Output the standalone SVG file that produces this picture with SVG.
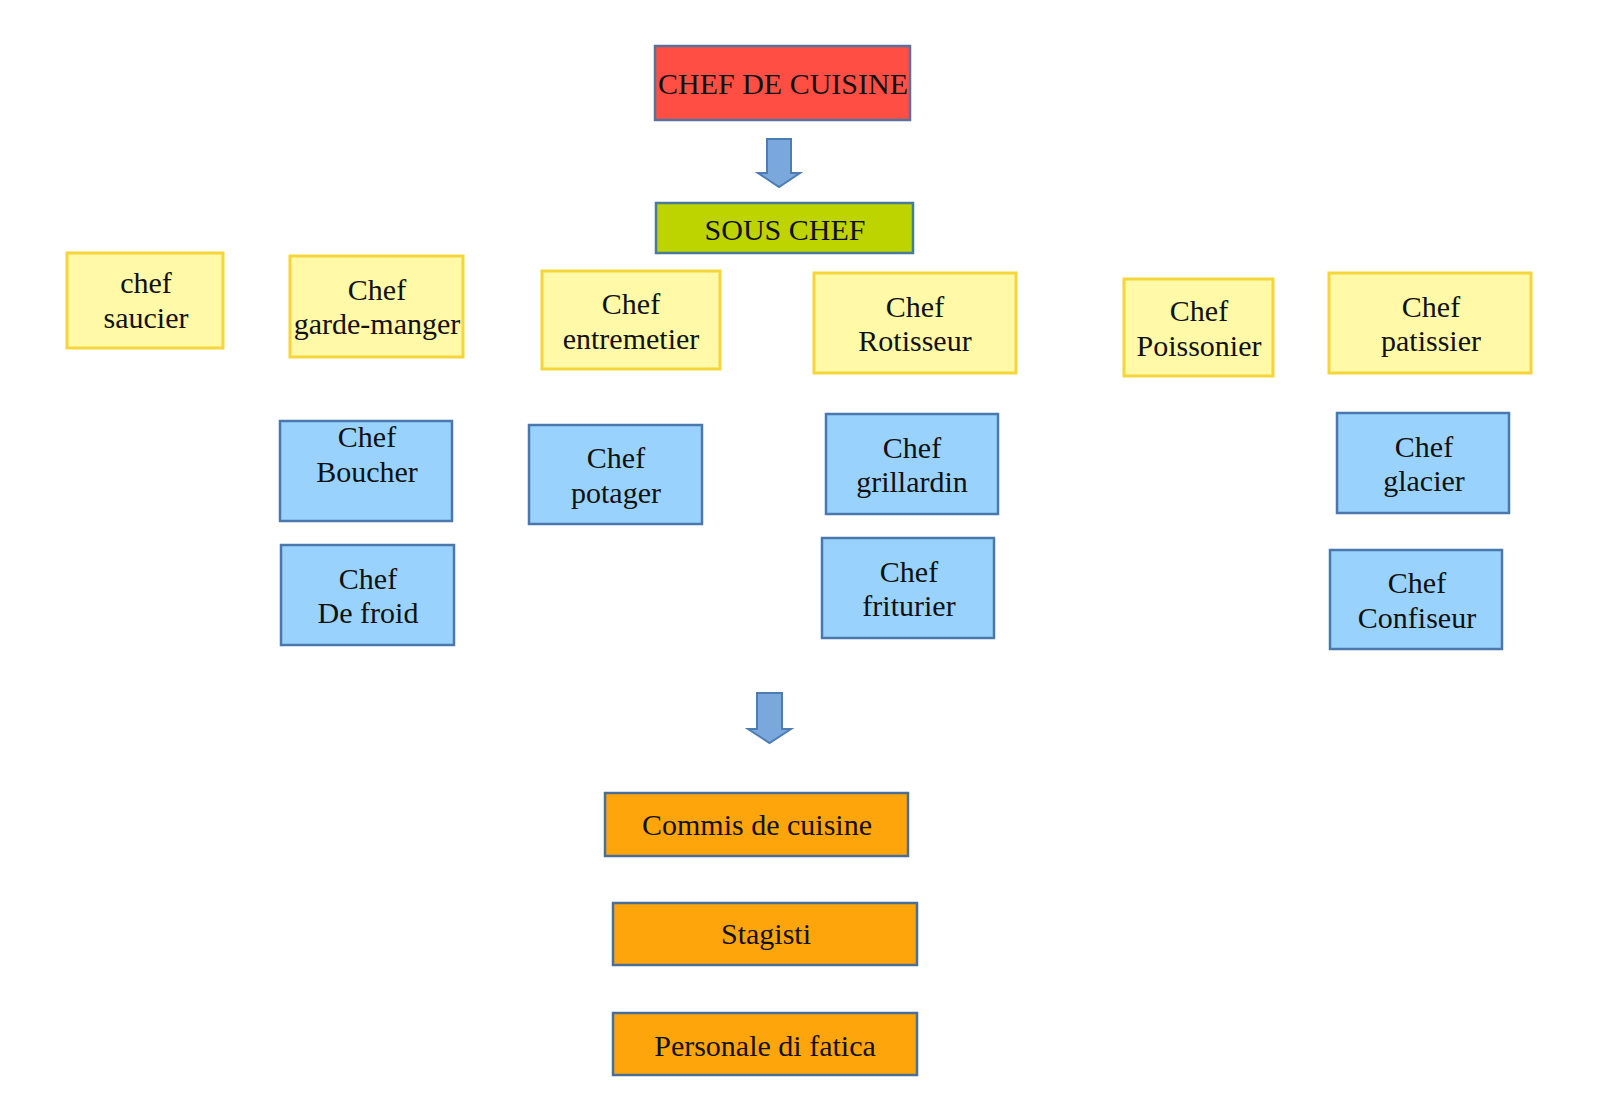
<svg xmlns="http://www.w3.org/2000/svg" width="1600" height="1102" viewBox="0 0 1600 1102">
<style>
text{font-family:"Liberation Serif","Times New Roman",serif;font-size:30px;fill:#111;text-anchor:middle}
.y{fill:#fff9a8;stroke:#f5d53a;stroke-width:3}
.b{fill:#99d3fd;stroke:#4a78ad;stroke-width:2.5}
.o{fill:#fea50c;stroke:#4a6e98;stroke-width:2.5}
.arr{fill:#7ba8dc;stroke:#4d7cb3;stroke-width:2;stroke-linejoin:miter}
</style>
<rect width="1600" height="1102" fill="#fff"/>
<g id="connectors">
<path class="arr" d="M767,139 H791 V173 H800 L779,187 L758,173 H767 Z"/>
<path class="arr" d="M757,693 H782 V729 H791 L769.5,743 L748,729 H757 Z"/>
</g>
<g id="chef-de-cuisine"><rect x="655" y="46" width="255" height="74" fill="#ff4f44" stroke="#56729c" stroke-width="2.5"/><text x="783" y="94">CHEF DE CUISINE</text></g>
<g id="sous-chef"><rect x="656" y="203" width="257" height="50" fill="#bdd400" stroke="#4a7a9a" stroke-width="2.5"/><text x="785" y="240">SOUS CHEF</text></g>
<g id="saucier"><rect class="y" x="67" y="253" width="156" height="95"/><text x="146" y="293">chef</text><text x="146" y="328">saucier</text></g>
<g id="garde-manger"><rect class="y" x="290" y="256" width="173" height="101"/><text x="377" y="300">Chef</text><text x="377" y="334">garde-manger</text></g>
<g id="entremetier"><rect class="y" x="542" y="271" width="178" height="98"/><text x="631" y="314">Chef</text><text x="631" y="349">entremetier</text></g>
<g id="rotisseur"><rect class="y" x="814" y="273" width="202" height="100"/><text x="915" y="317">Chef</text><text x="915" y="351">Rotisseur</text></g>
<g id="poissonier"><rect class="y" x="1124" y="279" width="149" height="97"/><text x="1199" y="321">Chef</text><text x="1199" y="356">Poissonier</text></g>
<g id="patissier"><rect class="y" x="1329" y="273" width="202" height="100"/><text x="1431" y="317">Chef</text><text x="1431" y="351">patissier</text></g>
<g id="boucher"><rect class="b" x="280" y="421" width="172" height="100"/><text x="367" y="447">Chef</text><text x="367" y="482">Boucher</text></g>
<g id="de-froid"><rect class="b" x="281" y="545" width="173" height="100"/><text x="368" y="589">Chef</text><text x="368" y="623">De froid</text></g>
<g id="potager"><rect class="b" x="529" y="425" width="173" height="99"/><text x="616" y="468">Chef</text><text x="616" y="503">potager</text></g>
<g id="grillardin"><rect class="b" x="826" y="414" width="172" height="100"/><text x="912" y="458">Chef</text><text x="912" y="492">grillardin</text></g>
<g id="friturier"><rect class="b" x="822" y="538" width="172" height="100"/><text x="909" y="582">Chef</text><text x="909" y="616">friturier</text></g>
<g id="glacier"><rect class="b" x="1337" y="413" width="172" height="100"/><text x="1424" y="457">Chef</text><text x="1424" y="491">glacier</text></g>
<g id="confiseur"><rect class="b" x="1330" y="550" width="172" height="99"/><text x="1417" y="593">Chef</text><text x="1417" y="628">Confiseur</text></g>
<g id="commis"><rect class="o" x="605" y="793" width="303" height="63"/><text x="757" y="835">Commis de cuisine</text></g>
<g id="stagisti"><rect class="o" x="613" y="903" width="304" height="62"/><text x="766" y="944">Stagisti</text></g>
<g id="personale"><rect class="o" x="613" y="1013" width="304" height="62"/><text x="765" y="1056">Personale di fatica</text></g>
</svg>
